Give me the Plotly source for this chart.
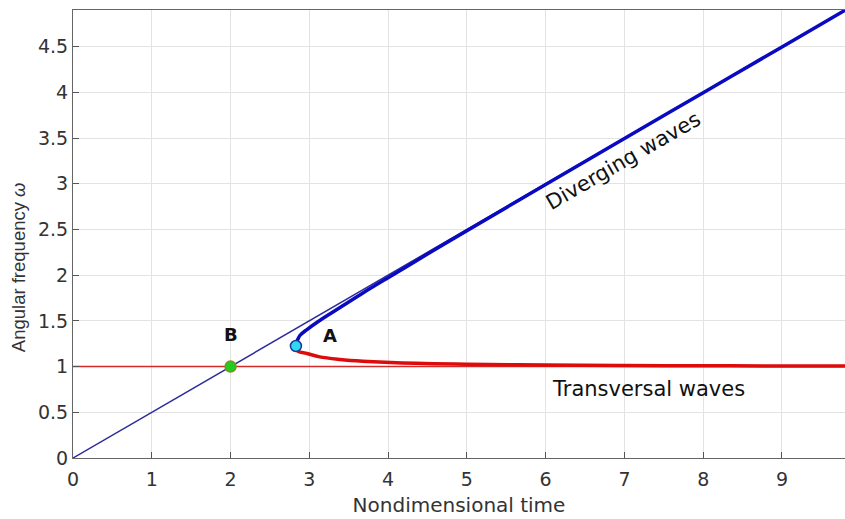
import plotly.graph_objects as go

# Thin reference lines
ref_line_x = [0, 9.8]
ref_line_y = [0, 4.9]
unit_line_x = [0, 9.8]
unit_line_y = [1, 1]

# Diverging waves branch (thick blue)
div_x = [2.83, 2.835, 2.85, 2.88, 2.97, 3.09, 3.26, 3.47, 3.69, 4.0, 4.5, 5.0, 6.0, 7.0, 8.0, 9.0, 9.8]
div_y = [1.225, 1.26, 1.29, 1.34, 1.405, 1.48, 1.575, 1.69, 1.81, 1.972, 2.23, 2.486, 2.991, 3.494, 3.995, 4.496, 4.897]

# Transversal waves branch (thick red)
tr_x = [2.83, 2.835, 2.86, 2.97, 3.13, 3.39, 3.68, 4.11, 5.0, 6.0, 7.0, 8.0, 9.0, 9.8]
tr_y = [1.225, 1.19, 1.165, 1.143, 1.106, 1.078, 1.059, 1.042, 1.026, 1.017, 1.012, 1.009, 1.007, 1.006]

# Special points
pt_a = (2.83, 1.225)
pt_b = (2.0, 1.0)

x_ticks = [0, 1, 2, 3, 4, 5, 6, 7, 8, 9]
y_ticks = [0, 0.5, 1, 1.5, 2, 2.5, 3, 3.5, 4, 4.5]
y_tick_text = ["0", "0.5", "1", "1.5", "2", "2.5", "3", "3.5", "4", "4.5"]

fig = go.Figure()
fig.add_trace(go.Scatter(x=unit_line_x, y=unit_line_y, mode="lines",
                         line=dict(color="#d42a2a", width=1.5), hoverinfo="skip"))
fig.add_trace(go.Scatter(x=ref_line_x, y=ref_line_y, mode="lines",
                         line=dict(color="#2b2b9c", width=1.5), hoverinfo="skip"))
fig.add_trace(go.Scatter(x=tr_x, y=tr_y, mode="lines",
                         line=dict(color="#dd0b0b", width=3.5, shape="spline", smoothing=1.0)))
fig.add_trace(go.Scatter(x=div_x, y=div_y, mode="lines",
                         line=dict(color="#0a0ac0", width=3.5, shape="spline", smoothing=1.0)))
fig.add_trace(go.Scatter(x=[pt_a[0]], y=[pt_a[1]], mode="markers",
                         marker=dict(color="#2fd8f2", size=11, line=dict(color="#1a3a9a", width=1.5))))
fig.add_trace(go.Scatter(x=[pt_b[0]], y=[pt_b[1]], mode="markers",
                         marker=dict(color="#22cc22", size=11, line=dict(color="#8a8a20", width=1.5))))

font_fam = "DejaVu Sans, sans-serif"
fig.add_annotation(x=6.98, y=3.25, text="Diverging waves", showarrow=False, textangle=-30,
                   font=dict(family=font_fam, size=21, color="#111111"))
fig.add_annotation(x=7.30, y=0.75, text="Transversal waves", showarrow=False,
                   font=dict(family=font_fam, size=21, color="#111111"))
fig.add_annotation(x=3.26, y=1.335, text="<b>A</b>", showarrow=False,
                   font=dict(family=font_fam, size=18, color="#111111"))
fig.add_annotation(x=2.01, y=1.35, text="<b>B</b>", showarrow=False,
                   font=dict(family=font_fam, size=18, color="#111111"))
# y-axis title
fig.add_annotation(xref="paper", yref="paper", x=-0.0712, y=0.426, text="Angular frequency <i>ω</i>",
                   showarrow=False, textangle=-90, xanchor="center", yanchor="middle",
                   font=dict(family="Liberation Sans Narrow, Liberation Sans, Arial, sans-serif",
                             size=18.5, color="#333333"))

fig.update_layout(
    width=845, height=519,
    margin=dict(l=73, r=0, t=10, b=61),
    plot_bgcolor="white", paper_bgcolor="white",
    showlegend=False,
    font=dict(family=font_fam, size=19, color="#333333"),
)
fig.update_xaxes(range=[0, 9.8], tickvals=x_ticks, ticks="inside", ticklen=6, tickcolor="#555555",
                 showgrid=True, gridcolor="#e3e3e3", gridwidth=1, zeroline=False,
                 showline=True, linecolor="#666666", linewidth=1.2, mirror=True,
                 ticklabelstandoff=4,
                 title=dict(text="Nondimensional time", font=dict(family=font_fam, size=20, color="#333333"), standoff=9),
                 tickfont=dict(family=font_fam, size=19, color="#333333"))
fig.update_yaxes(range=[0, 4.9], tickvals=y_ticks, ticktext=y_tick_text, ticks="inside", ticklen=6,
                 tickcolor="#555555",
                 showgrid=True, gridcolor="#e3e3e3", gridwidth=1, zeroline=False,
                 showline=True, linecolor="#666666", linewidth=1.2,
                 tickfont=dict(family=font_fam, size=19, color="#333333"))

fig.write_html("out.html")
